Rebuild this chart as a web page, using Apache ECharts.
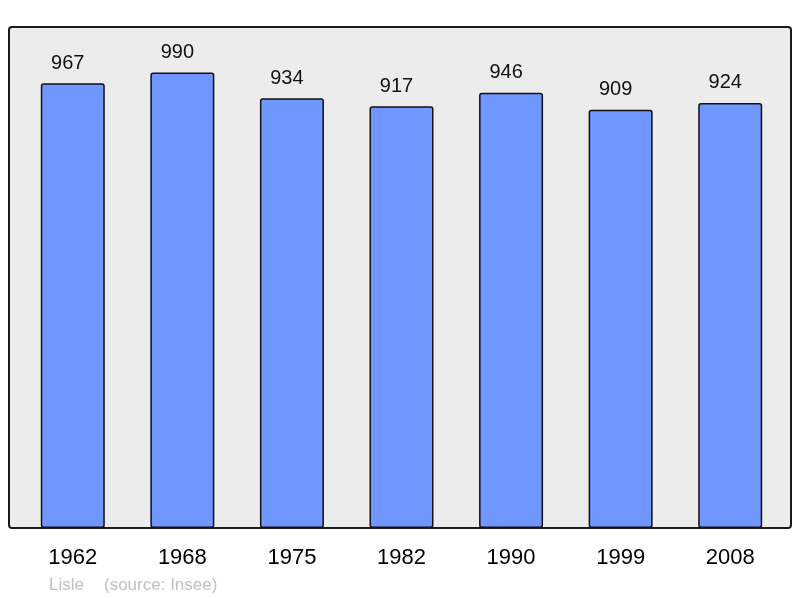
<!DOCTYPE html>
<html><head><meta charset="utf-8">
<script src="https://cdn.jsdelivr.net/npm/echarts@6/dist/echarts.min.js"></script>
<style>html,body{margin:0;padding:0;background:#fff}#c{width:800px;height:598px}</style>
</head><body><div id="c"></div>
<script>
const years = ['1962','1968','1975','1982','1990','1999','2008'];
const population = [967, 990, 934, 917, 946, 909, 924];
const footerPlace = 'Lisle';
const footerSource = '(source: Insee)';

const chart = echarts.init(document.getElementById('c'), null, {renderer:'canvas'});
chart.setOption({
  animation:false,
  backgroundColor:'#ffffff',
  graphic:[
    {type:'rect', z:-1, shape:{x:9,y:27,width:782,height:501,r:3}, style:{fill:'#ececec',stroke:'#1a1a1a',lineWidth:2}},
    {type:'text', left:49, top:577, style:{text:footerPlace, fill:'#c0c0c0', font:'17px "Liberation Sans", Arial, sans-serif'}},
    {type:'text', left:104, top:577, style:{text:footerSource, fill:'#c0c0c0', font:'17px "Liberation Sans", Arial, sans-serif'}}
  ],
  grid:{left:18, right:15, top:27, bottom:70, containLabel:false},
  xAxis:{type:'category', data:years,
    axisLine:{show:false}, axisTick:{show:false},
    axisLabel:{color:'#000', fontSize:22, fontFamily:'"Liberation Sans", Arial, sans-serif', margin:19}},
  yAxis:{type:'value', min:0, max:1089, show:false, splitLine:{show:false}},
  series:[{type:'bar', data:population, barWidth:64,
    itemStyle:{color:'#7096ff', borderColor:'#111', borderWidth:1.5, borderRadius:2},
    label:{show:true, position:'top', distance:10, offset:[-5,0], color:'#111', fontSize:20,
      fontFamily:'"Liberation Sans", Arial, sans-serif'}}]
});
</script></body></html>
